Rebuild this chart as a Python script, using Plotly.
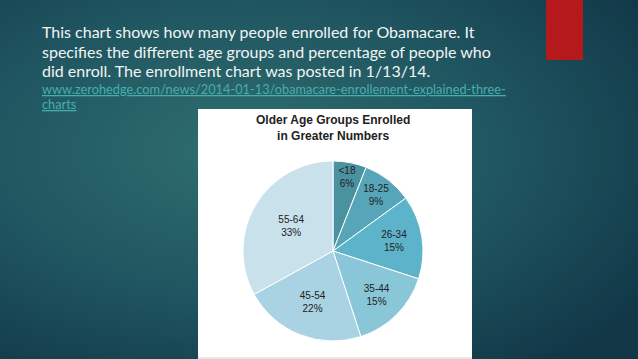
import base64
import plotly.graph_objects as go

W, H = 638, 359

# ---- data ----
age_groups = ["<18", "18-25", "26-34", "35-44", "45-54", "55-64"]
enroll_pct = [6, 9, 15, 15, 22, 33]
slice_colors = ["#4b92a1", "#56a5b8", "#5db4ca", "#88c6d8", "#a9d3e2", "#c9e1eb"]

chart_title = "Older Age Groups Enrolled<br>in Greater Numbers"
body_lines = [
    "This chart shows how many people enrolled for Obamacare. It",
    "specifies the different age groups and percentage of people who",
    "did enroll. The enrollment chart was posted in 1/13/14.",
]
link_lines = [
    "www.zerohedge.com/news/2014-01-13/obamacare-enrollement-explained-three-",
    "charts",
]

# ---- background gradient (svg data uri) ----
svg = f"""<svg xmlns='http://www.w3.org/2000/svg' width='{W}' height='{H}'>
<defs><radialGradient id='g' cx='0.38' cy='0.42' r='0.75'>
<stop offset='0' stop-color='#2f6e6f'/>
<stop offset='0.55' stop-color='#1f5560'/>
<stop offset='1' stop-color='#123848'/>
</radialGradient></defs>
<rect width='{W}' height='{H}' fill='url(#g)'/></svg>"""
bg_uri = "data:image/svg+xml;base64," + base64.b64encode(svg.encode()).decode()

fig = go.Figure()

cx, cy, r = 333, 251, 90
fig.add_trace(go.Pie(
    labels=age_groups,
    values=enroll_pct,
    sort=False,
    direction="clockwise",
    rotation=0,
    marker=dict(colors=slice_colors, line=dict(color="#ffffff", width=1)),
    texttemplate="%{label}<br>%{percent:.0%}",
    textposition="inside",
    insidetextorientation="horizontal",
    textfont=dict(family="Liberation Sans", size=10, color="#222222"),
    hoverinfo="label+percent",
    showlegend=False,
    domain=dict(x=[(cx - r) / W, (cx + r) / W], y=[(H - cy - r) / H, (H - cy + r) / H]),
))

shapes = [
    # white panel
    dict(type="rect", xref="paper", yref="paper", x0=198 / W, x1=472 / W,
         y0=0, y1=(H - 109) / H, fillcolor="#ffffff", line=dict(width=0), layer="below"),
    dict(type="rect", xref="paper", yref="paper", x0=198 / W, x1=472 / W,
         y0=0, y1=2 / H, fillcolor="#e4eaec", line=dict(width=0), layer="below"),
    # red accent bar
    dict(type="rect", xref="paper", yref="paper", x0=546 / W, x1=583 / W,
         y0=(H - 60) / H, y1=1, fillcolor="#b5191b", line=dict(width=0), layer="below"),
]

annotations = []
for i, t in enumerate(body_lines):
    annotations.append(dict(
        text=t, x=40 / W, y=(H - (32 + 19.2 * i)) / H, xref="paper", yref="paper",
        xanchor="left", yanchor="middle", showarrow=False,
        font=dict(family="Lato", size=16, color="#f2f4f4")))
for i, t in enumerate(link_lines):
    annotations.append(dict(
        text=f"<span style='text-decoration:underline'>{t}</span>",
        x=40 / W, y=(H - (88.5 + 15.5 * i)) / H, xref="paper", yref="paper",
        xanchor="left", yanchor="middle", showarrow=False,
        font=dict(family="Lato", size=12.8, color="#46aeae")))
annotations.append(dict(
    text=f"<b>{chart_title}</b>", x=333 / W, y=(H - 128) / H, xref="paper", yref="paper",
    xanchor="center", yanchor="middle", showarrow=False,
    font=dict(family="Liberation Sans", size=12, color="#222222")))

fig.update_layout(
    width=W, height=H,
    margin=dict(l=0, r=0, t=0, b=0),
    paper_bgcolor="#1d4f5a",
    plot_bgcolor="rgba(0,0,0,0)",
    uniformtext=dict(minsize=10, mode="show"),
    shapes=shapes,
    annotations=annotations,
    images=[dict(source=bg_uri, xref="paper", yref="paper", x=0, y=1,
                 sizex=1, sizey=1, xanchor="left", yanchor="top",
                 sizing="stretch", layer="below")],
)

fig.write_html("out.html",
               config={"displayModeBar": False},
               post_script="document.body.style.margin='0';document.body.style.overflow='hidden';")
